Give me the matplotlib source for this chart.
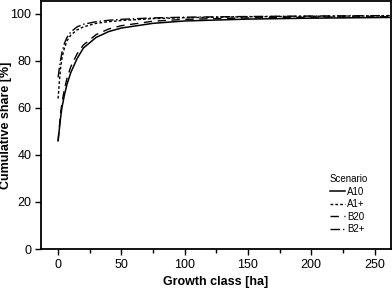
import matplotlib
matplotlib.use("Agg")
import matplotlib.pyplot as plt
from matplotlib.ticker import MultipleLocator

plt.rcParams['font.family'] = ['Liberation Sans', 'DejaVu Sans']

x = [0, 1, 2, 3, 5, 7, 10, 15, 20, 30, 40, 50, 75, 100, 150, 200, 262]
a10 = [46, 51, 56, 60, 65.5, 70, 75, 81, 85.5, 90, 92.5, 94, 96, 97, 97.8, 98.2, 98.5]
a1p = [64, 71, 77, 81, 85.5, 88.5, 91, 93.2, 94.5, 96, 96.7, 97.2, 98, 98.4, 98.8, 99, 99.2]
b20 = [46, 52, 58, 62, 68, 72.5, 77.5, 83, 86.8, 91.2, 93.6, 95, 96.9, 97.7, 98.3, 98.6, 98.8]
b2p = [73, 77, 80.5, 83.5, 87.5, 90, 92.3, 94.5, 95.6, 96.7, 97.3, 97.7, 98.3, 98.6, 98.9, 99.1, 99.3]
labels = ['A10', 'A1+', 'B20', 'B2+']

fig = plt.figure(figsize=(3.92, 2.88), dpi=100)
ax = fig.add_axes([41/392, 1-249/288, 350/392, 248/288])

ax.plot(x, a10, color='black', lw=1.1, ls='-', label=labels[0])
ax.plot(x, a1p, color='black', lw=1.0, ls=(0, (2, 1.5)), label=labels[1])
ax.plot(x, b20, color='black', lw=1.0, ls=(0, (6, 4)), label=labels[2])
ax.plot(x, b2p, color='black', lw=1.0, ls=(0, (7, 2, 1, 2)), label=labels[3])

ax.set_xlim(-13.5, 263)
ax.set_ylim(0, 105.5)
ax.set_xticks([0, 50, 100, 150, 200, 250])
ax.xaxis.set_minor_locator(MultipleLocator(25))
ax.set_yticks([0, 20, 40, 60, 80, 100])
ax.tick_params(axis='both', which='major', length=4, width=1, labelsize=9, direction='out', pad=3)
ax.tick_params(axis='x', which='minor', length=3, width=1, direction='out')
for s in ax.spines.values():
    s.set_linewidth(1.3)

ax.set_xlabel('Growth class [ha]', fontsize=9, fontweight='bold', labelpad=4)
ax.set_ylabel('Cumulative share [%]', fontsize=9, fontweight='bold')
ax.yaxis.set_label_coords(-0.084, 0.5)

leg = ax.legend(title='Scenario', loc='lower right', bbox_to_anchor=(0.945, 0.045),
                frameon=False, fontsize=7, title_fontsize=7, handlelength=1.6,
                handletextpad=0.2, labelspacing=0.25, borderaxespad=0.0)
leg._legend_box.align = 'left'

fig.savefig('out.png', dpi=100)
